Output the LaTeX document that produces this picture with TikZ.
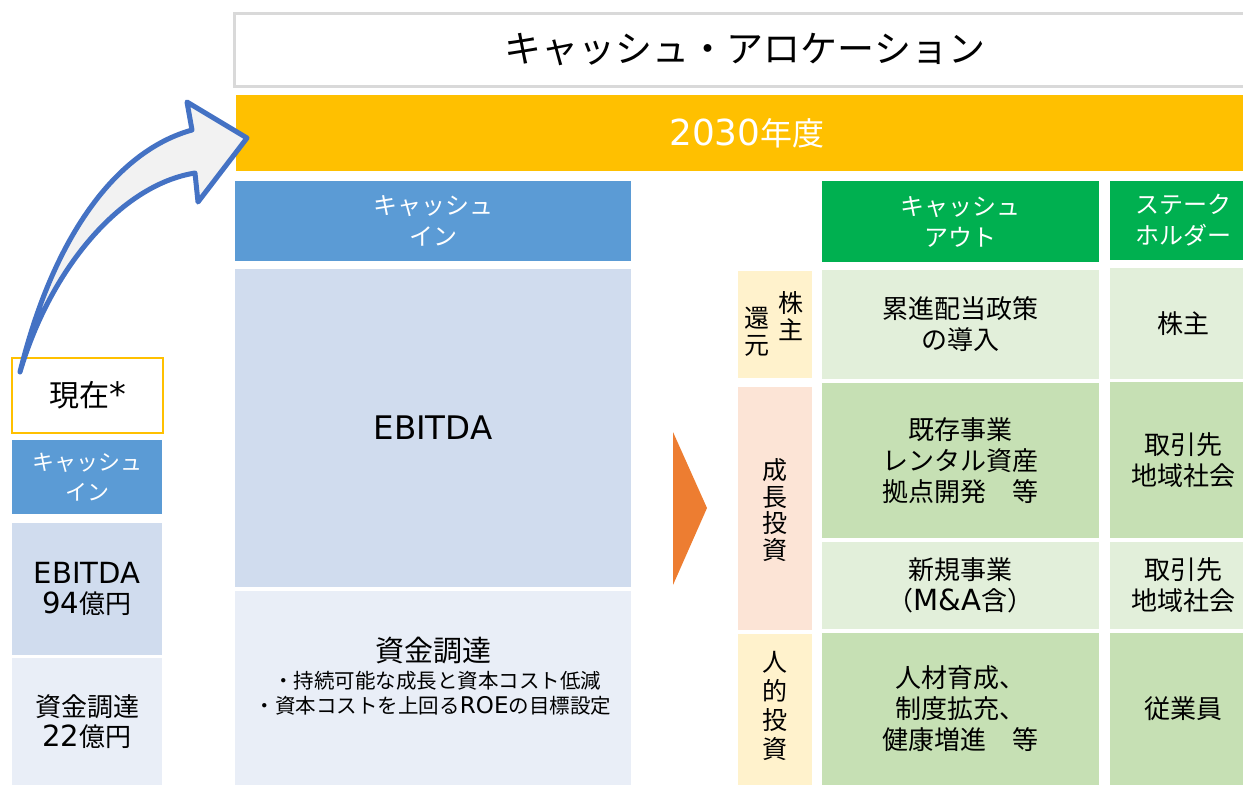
\documentclass[tikz,border=0pt]{standalone}
\usepackage{fontspec}
\setmainfont{Noto Sans CJK JP}
\newfontfamily\lat[Scale=1.12]{DejaVu Sans}
\definecolor{hdrblue}{HTML}{5B9BD5}
\definecolor{ltblue}{HTML}{D0DCEE}
\definecolor{paleblue}{HTML}{E9EEF7}
\definecolor{hdrgreen}{HTML}{00B050}
\definecolor{ltgreen}{HTML}{E2EFDA}
\definecolor{midgreen}{HTML}{C6E0B4}
\definecolor{cream}{HTML}{FFF2CC}
\definecolor{peach}{HTML}{FCE4D6}
\definecolor{gold}{HTML}{FFC000}
\definecolor{tri}{HTML}{ED7D31}
\definecolor{arrowblue}{HTML}{4472C4}
\definecolor{arrowfill}{HTML}{F2F2F2}
\definecolor{titlegray}{HTML}{D9D9D9}
\tikzset{
  cell/.style={inner sep=0pt, outer sep=0pt, align=center, draw=none},
  hdr/.style={cell, text=white, font=\fontsize{24}{31}\selectfont},
  body/.style={cell, text=black, font=\fontsize{26}{31}\selectfont},
  vtext/.style={inner sep=0pt, align=center, font=\fontsize{25}{26.5}\selectfont},
  txt/.style={inner sep=0pt, align=center},
}
\begin{document}
\begin{tikzpicture}[x=1pt,y=-1pt]
\useasboundingbox (0,0) rectangle (1243,785);
\clip (0,0) rectangle (1243,785);

% title and year bar
\node[cell, draw=titlegray, line width=3pt, fill=white, minimum width=1022pt, minimum height=73pt,
  font=\fontsize{37}{40}\selectfont] (title) at (745,49.5) {キャッシュ・アロケーション};
\node[cell, fill=gold, minimum width=1022pt, minimum height=76pt, text=white,
  font=\fontsize{32}{34}\selectfont] (year) at (747,133) {{\lat 2030}年度};

% cash in (2030)
\node[hdr, fill=hdrblue, minimum width=396pt, minimum height=80pt] (inhdr) at (433,221) {キャッシュ\\イン};
\node[cell, fill=ltblue, minimum width=396pt, minimum height=318pt, font=\fontsize{29}{34}\selectfont] (ebitda) at (433,428) {\lat EBITDA};
\node[cell, fill=paleblue, minimum width=396pt, minimum height=194pt] (fund) at (433,688) {};
\node[txt, font=\fontsize{29}{32}\selectfont] (fundtitle) at (433,651) {資金調達};
\node[txt, font=\fontsize{20.5}{24}\selectfont] (fundb1) at (437,681) {・持続可能な成長と資本コスト低減};
\node[txt, font=\fontsize{20.5}{24}\selectfont] (fundb2) at (433,706) {・資本コストを上回る{\lat ROE}の目標設定};

% orange triangle
\fill[tri] (673,432) -- (707,508) -- (673,585) -- cycle;

% current (left)
\node[cell, draw=gold, line width=2.5pt, fill=white, minimum width=151pt, minimum height=75pt,
  font=\fontsize{30}{33}\selectfont] (now) at (87.5,395.5) {現在{\lat *}};
\node[cell, fill=hdrblue, text=white, minimum width=150pt, minimum height=74pt,
  font=\fontsize{22}{30}\selectfont] (nowin) at (87,477) {キャッシュ\\イン};
\node[cell, fill=ltblue, minimum width=150pt, minimum height=132pt,
  font=\fontsize{26}{30}\selectfont] (nowebitda) at (87,589) {{\lat EBITDA}\\{\lat 94}億円};
\node[cell, fill=paleblue, minimum width=150pt, minimum height=127pt,
  font=\fontsize{26}{30}\selectfont] (nowfund) at (87,721.5) {資金調達\\{\lat 22}億円};

% curved arrow
\filldraw[draw=arrowblue, fill=arrowfill, line width=5pt, line join=round]
  (20,372) .. controls (55,230) and (120,150) .. (192,130)
  -- (187,102) -- (247,138) -- (198,202) -- (195,173)
  .. controls (120,185) and (50,270) .. (20,372) -- cycle;

% category labels
\node[cell, fill=cream, minimum width=74pt, minimum height=107pt] (shr) at (775,324.5) {};
\node[vtext] (shr1) at (791,316) {株\\主};
\node[vtext] (shr2) at (757,332) {還\\元};
\node[cell, fill=peach, minimum width=74pt, minimum height=243pt] (grow) at (775,508.5) {};
\node[vtext] (growt) at (775,510) {成\\長\\投\\資};
\node[cell, fill=cream, minimum width=74pt, minimum height=151pt] (human) at (775,709.5) {};
\node[vtext, font=\fontsize{25}{29}\selectfont] (humant) at (775,706) {人\\的\\投\\資};

% cash out
\node[hdr, fill=hdrgreen, minimum width=277pt, minimum height=81pt] (outhdr) at (960.5,221.5) {キャッシュ\\アウト};
\node[body, fill=ltgreen, minimum width=277pt, minimum height=109pt] (out1) at (960.5,324.5) {累進配当政策\\の導入};
\node[body, fill=midgreen, minimum width=277pt, minimum height=155pt] (out2) at (960.5,460.5) {既存事業\\レンタル資産\\拠点開発\quad 等};
\node[body, fill=ltgreen, minimum width=277pt, minimum height=87pt] (out3) at (960.5,585.5) {新規事業\\（{\lat M\&A}含）};
\node[body, fill=midgreen, minimum width=277pt, minimum height=152pt] (out4) at (960.5,709) {人材育成、\\制度拡充、\\健康増進\quad 等};

% stakeholders
\node[hdr, fill=hdrgreen, minimum width=146pt, minimum height=79pt] (skhdr) at (1183,220.5) {ステーク\\ホルダー};
\node[body, fill=ltgreen, minimum width=146pt, minimum height=111pt] (sk1) at (1183,323.5) {株主};
\node[body, fill=midgreen, minimum width=146pt, minimum height=156pt] (sk2) at (1183,460) {取引先\\地域社会};
\node[body, fill=ltgreen, minimum width=146pt, minimum height=87pt] (sk3) at (1183,585.5) {取引先\\地域社会};
\node[body, fill=midgreen, minimum width=146pt, minimum height=152pt] (sk4) at (1183,709) {従業員};
\end{tikzpicture}
\end{document}
